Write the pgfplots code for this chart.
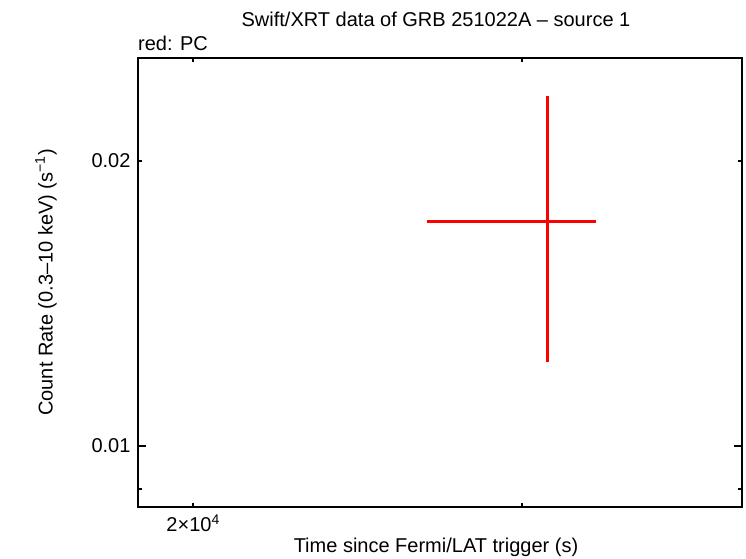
\documentclass[border=0pt]{standalone}
\usepackage{fontspec}
\setmainfont{Liberation Sans}
\usepackage{pgfplots}
\pgfplotsset{compat=1.18}
\begin{document}
\fontsize{20pt}{24pt}\selectfont
\begin{tikzpicture}[x=1pt,y=1pt]
\path[use as bounding box] (-138,-51) rectangle (608,507);
\begin{axis}[
  at={(0,0)}, anchor=south west,
  scale only axis, width=604pt, height=449pt,
  xmode=log, ymode=log,
  xmin=18690, xmax=39336, ymin=0.008621, ymax=0.025696,
  xtick=\empty,
  extra x ticks={20000,30000}, extra x tick labels={2×10\textsuperscript{4},},
  extra x tick style={major tick length=4pt},
  ytick={0.01}, yticklabels={0.01}, minor ytick={0.009},
  extra y ticks={0.02}, extra y tick labels={0.02},
  extra y tick style={major tick length=4pt},
  major tick length=8pt, minor tick length=4pt,
  tick align=inside,
  line width=2pt,
  axis line style={line width=2pt},
  every tick/.style={black, line width=2pt},
  tick label style={font=\fontsize{20pt}{24pt}\selectfont},
  clip=false,
]
\addplot[red, line width=3pt, mark=none,
  error bars/.cd, x dir=both, x explicit, y dir=both, y explicit,
  error mark=none, error bar style={line width=3pt, red}]
  coordinates {(30950,0.017282) -= (4270,0.005018) += (1920,0.006144)};
\end{axis}
\node at (298,488) {Swift/XRT data of GRB 251022A – source 1};
\node[anchor=west,inner sep=0pt] at (0,464) {red: PC};
\node at (298,-40) {Time since Fermi/LAT trigger (s)};
\node[rotate=90] at (-92,224.5) {Count Rate (0.3–10 keV) (s\textsuperscript{−1})};
\end{tikzpicture}
\end{document}
